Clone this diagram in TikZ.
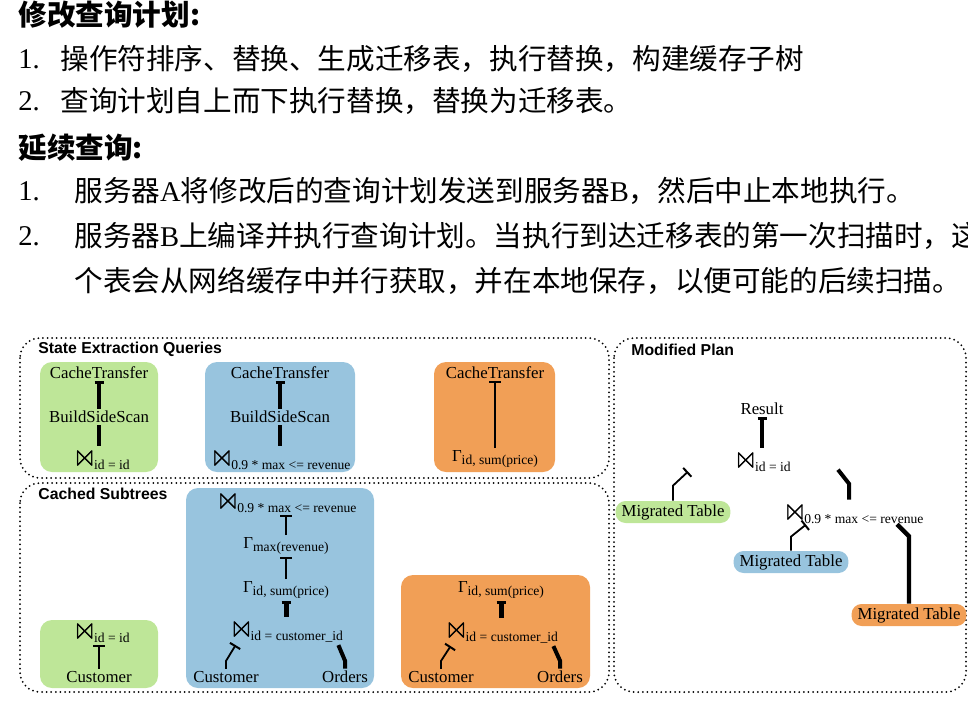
\documentclass[tikz,border=0pt]{standalone}
\usepackage{fontspec}
\usepackage{amssymb}
\usepackage{graphicx}
\setmainfont{Liberation Serif}
\setsansfont{Liberation Sans}
\newfontfamily\cjk{Noto Sans CJK SC}
\usetikzlibrary{positioning,arrows.meta,calc}
\definecolor{planGreen}{RGB}{190,230,152}
\definecolor{planBlue}{RGB}{152,196,222}
\definecolor{planOrange}{RGB}{241,159,86}
\newcommand{\lat}[1]{{\rmfamily #1}}
\newcommand{\subtxt}[1]{\raisebox{-0.4ex}{\fontsize{6.8}{7}\selectfont #1}}
\newcommand{\JoinOp}[1]{\scalebox{1.9}{$\Join$}\kern-1.6pt\subtxt{#1}}
\newcommand{\AggOp}[1]{Γ\subtxt{#1}}
\tikzset{
  cjkline/.style={anchor=west,inner sep=0pt,font=\cjk\fontsize{14.3}{16}\selectfont},
  cjkhead/.style={anchor=west,inner sep=0pt,font=\cjk\bfseries\fontsize{14.3}{16}\selectfont},
  numlbl/.style={anchor=west,inner sep=0pt,font=\fontsize{14.3}{16}\selectfont},
  dotframe/.style={line width=1pt,line cap=round,dash pattern=on 0pt off 2.3pt,rounded corners=10pt},
  frametitle/.style={anchor=west,inner sep=0pt,font=\sffamily\bfseries\fontsize{7.9}{9}\selectfont},
  grp/.style={rounded corners=6pt},
  op/.style={font=\fontsize{8.4}{10}\selectfont,inner sep=1pt},
  pill/.style={op,rounded corners=5pt,inner xsep=3pt,inner ysep=1.5pt,minimum height=11pt},
  thinT/.style={-{Bar[width=6pt,line width=1pt]},line width=0.9pt},
  thickT/.style={-{Bar[width=4.5pt,line width=1.5pt]},line width=2pt},
  thickE/.style={line width=#1},
  thickE/.default=2pt,
}
\begin{document}
\begin{tikzpicture}[x=0.5pt,y=-0.5pt]
\useasboundingbox (0,0) rectangle (968,703);

% text above the diagram
\node[cjkhead] (h1) at (18,15) {修改查询计划:};
\node[numlbl] (n11) at (18,59) {1.};
\node[cjkline] (t11) at (60,59) {操作符排序、替换、生成迁移表，执行替换，构建缓存子树};
\node[numlbl] (n12) at (18,101) {2.};
\node[cjkline] (t12) at (60,101) {查询计划自上而下执行替换，替换为迁移表。};
\node[cjkhead] (h2) at (18,148) {延续查询:};
\node[numlbl] (n21) at (18,191) {1.};
\node[cjkline] (t21) at (74,191) {服务器\lat{A}将修改后的查询计划发送到服务器\lat{B}，然后中止本地执行。};
\node[numlbl] (n22) at (18,236) {2.};
\node[cjkline] (t22) at (74,236) {服务器\lat{B}上编译并执行查询计划。当执行到达迁移表的第一次扫描时，这};
\node[cjkline] (t23) at (74,281) {个表会从网络缓存中并行获取，并在本地保存，以便可能的后续扫描。};

% frames
\draw[dotframe] (20,338) rectangle (609,478);
\draw[dotframe] (20,483) rectangle (609,692);
\draw[dotframe] (614,338) rectangle (966,692);
\node[frametitle] (seqT) at (38,349) {State Extraction Queries};
\node[frametitle] (cstT) at (38,494) {Cached Subtrees};
\node[frametitle] (modT) at (631,350) {Modified Plan};

% state extraction queries
\fill[planGreen,grp] (40,362) rectangle (158,472);
\node[op] (gCT) at (99,373) {CacheTransfer};
\node[op] (gBS) at (99,417) {BuildSideScan};
\node[op] (gJ) at (101,459) {\JoinOp{id = id}};
\draw[thickT] (gBS.north) -- (gCT.south);
\draw[thickE] (gBS.south) -- (gBS.south |- gJ.north);

\fill[planBlue,grp] (205,362) rectangle (355,472);
\node[op] (bCT) at (280,373) {CacheTransfer};
\node[op] (bBS) at (280,417) {BuildSideScan};
\node[op] (bJ) at (280,459) {\JoinOp{0.9 * max <= revenue}};
\draw[thickT] (bBS.north) -- (bCT.south);
\draw[thickE] (bBS.south) -- (bBS.south |- bJ.north);

\fill[planOrange,grp] (434,362) rectangle (555,472);
\node[op] (oCT) at (495,373) {CacheTransfer};
\node[op] (oAg) at (495,459) {\AggOp{id, sum(price)}};
\draw[thinT] (oAg.north) -- (oCT.south);

% cached subtrees
\fill[planGreen,grp] (40,620) rectangle (158,688);
\node[op] (cgJ) at (101,632) {\JoinOp{id = id}};
\node[op] (cgC) at (99,677) {Customer};
\draw[thinT] (cgC.north) -- (cgC.north |- cgJ.south);

\fill[planBlue,grp] (186,488) rectangle (374,688);
\node[op] (cbJ2) at (286,502) {\JoinOp{0.9 * max <= revenue}};
\node[op] (cbA1) at (286,546) {\AggOp{max(revenue)}};
\node[op] (cbA2) at (286,590) {\AggOp{id, sum(price)}};
\node[op] (cbJ1) at (286,631) {\JoinOp{id = customer\_id}};
\node[op] (cbC) at (226,677) {Customer};
\node[op] (cbO) at (345,677) {Orders};
\draw[thinT] (cbA1.north) -- (cbJ2.south);
\draw[thinT] (cbA2.north) -- (cbA1.south);
\draw[thickT,line width=2.5pt] (cbJ1.north) -- (cbA2.south);
\draw[thinT] (cbC.north) -- ++(0,-8) -- ($(cbJ1.south west)+(9,0)$);
\draw[thickE] (cbO.north) -- ++(0,-8) -- ($(cbJ1.south east)+(-7,0)$);

\fill[planOrange,grp] (401,575) rectangle (590,688);
\node[op] (coA) at (501,590) {\AggOp{id, sum(price)}};
\node[op] (coJ) at (501,632) {\JoinOp{id = customer\_id}};
\node[op] (coC) at (441,677) {Customer};
\node[op] (coO) at (560,677) {Orders};
\draw[thickT,line width=2.5pt] (coJ.north) -- (coA.south);
\draw[thinT] (coC.north) -- ++(0,-8) -- ($(coJ.south west)+(9,0)$);
\draw[thickE] (coO.north) -- ++(0,-8) -- ($(coJ.south east)+(-7,0)$);

% modified plan
\node[op] (mR) at (762,409) {Result};
\node[op] (mJ1) at (762,461) {\JoinOp{id = id}};
\node[op] (mJ2) at (853,513) {\JoinOp{0.9 * max <= revenue}};
\node[pill,fill=planGreen] (mG) at (673,512) {Migrated Table};
\node[pill,fill=planBlue] (mB) at (791,562) {Migrated Table};
\node[pill,fill=planOrange] (mO) at (909,615) {Migrated Table};
\draw[thickT] (mJ1.north) -- (mR.south);
\draw[thinT] (mG.north) -- ++(0,-15) -- ++(15,-14);
\draw[thickE] ($(mJ2.north)+(-4,0)$) -- ++(0,-16) -- ++(-11,-14);
\draw[thinT] (mB.north) -- ++(0,-14) -- ++(15,-12);
\draw[thickE=2.2pt] (mO.north) -- ($(mO.north |- mJ2.south)+(0,10)$) -- ++(-12,-12);
\end{tikzpicture}
\end{document}
